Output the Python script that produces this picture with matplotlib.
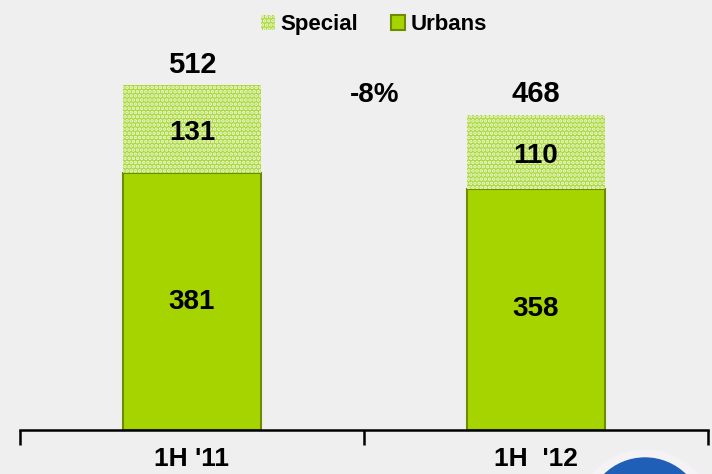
import matplotlib
matplotlib.use("Agg")
import matplotlib.pyplot as plt
from matplotlib.patches import Ellipse

categories = ["1H '11", "1H  '12"]
urbans = [381, 358]
special = [131, 110]
totals = [512, 468]
change_label = "-8%"

plt.rcParams['font.family'] = ['Liberation Sans', 'DejaVu Sans']
plt.rcParams['hatch.linewidth'] = 1.8

bg = '#efefef'
fig = plt.figure(figsize=(7.12, 4.74), dpi=100, facecolor=bg)
ax = fig.add_axes([20/712, 44/474, 688/712, 390/474], facecolor=bg)

x = list(range(len(categories)))
w = 0.4
ax.bar(x, urbans, width=w, color='#a6d400', edgecolor='#6e8c00', linewidth=1.5, label='Urbans', zorder=2)
ax.bar(x, special, width=w, bottom=urbans, color='#aad83c', edgecolor='#eef8d8', hatch='....',
       linewidth=0, label='Special', zorder=2)

for i in x:
    ax.text(i, urbans[i] / 2, str(urbans[i]), ha='center', va='center', fontsize=20, fontweight='bold', zorder=3)
    ax.text(i, urbans[i] + special[i] / 2 - 6, str(special[i]), ha='center', va='center', fontsize=20,
            fontweight='bold', zorder=3)
    ax.text(i, totals[i] + 9, str(totals[i]), ha='center', va='bottom', fontsize=21, fontweight='bold')

ax.text(0.53, 478, change_label, ha='center', va='bottom', fontsize=20, fontweight='bold')

ax.set_xlim(-0.5, 1.5)
ax.set_ylim(0, 578.6)
for s in ['left', 'right', 'top']:
    ax.spines[s].set_visible(False)
ax.spines['bottom'].set_linewidth(1.8)
ax.set_yticks([])
ax.set_xticks([-0.5, 0.5, 1.5], minor=False)
ax.set_xticklabels([])
ax.tick_params(axis='x', direction='out', length=11, width=1.8)
ax.set_xticks(x, minor=True)
ax.set_xticklabels(categories, minor=True, fontsize=19, fontweight='bold')
ax.tick_params(axis='x', which='minor', length=0, pad=12)

h, l = ax.get_legend_handles_labels()
fig.legend(h[::-1], l[::-1], loc='upper center', bbox_to_anchor=(374/712, 1.012), ncol=2, frameon=False,
           prop={'weight': 'bold', 'size': 16}, handlelength=0.6, handleheight=0.6, handletextpad=0.25,
           columnspacing=1.5)

# decorative logo fragment at bottom right
halo = Ellipse((645/712, -42/474), 136/712, 132/474, transform=fig.transFigure, color='#f4f2f4', zorder=4)
logo = Ellipse((645/712, -42/474), 116/712, 116/474, transform=fig.transFigure, color='#1f5fb8', zorder=5)
fig.patches.append(halo)
fig.patches.append(logo)

fig.savefig('out.png', dpi=100, facecolor=bg)
